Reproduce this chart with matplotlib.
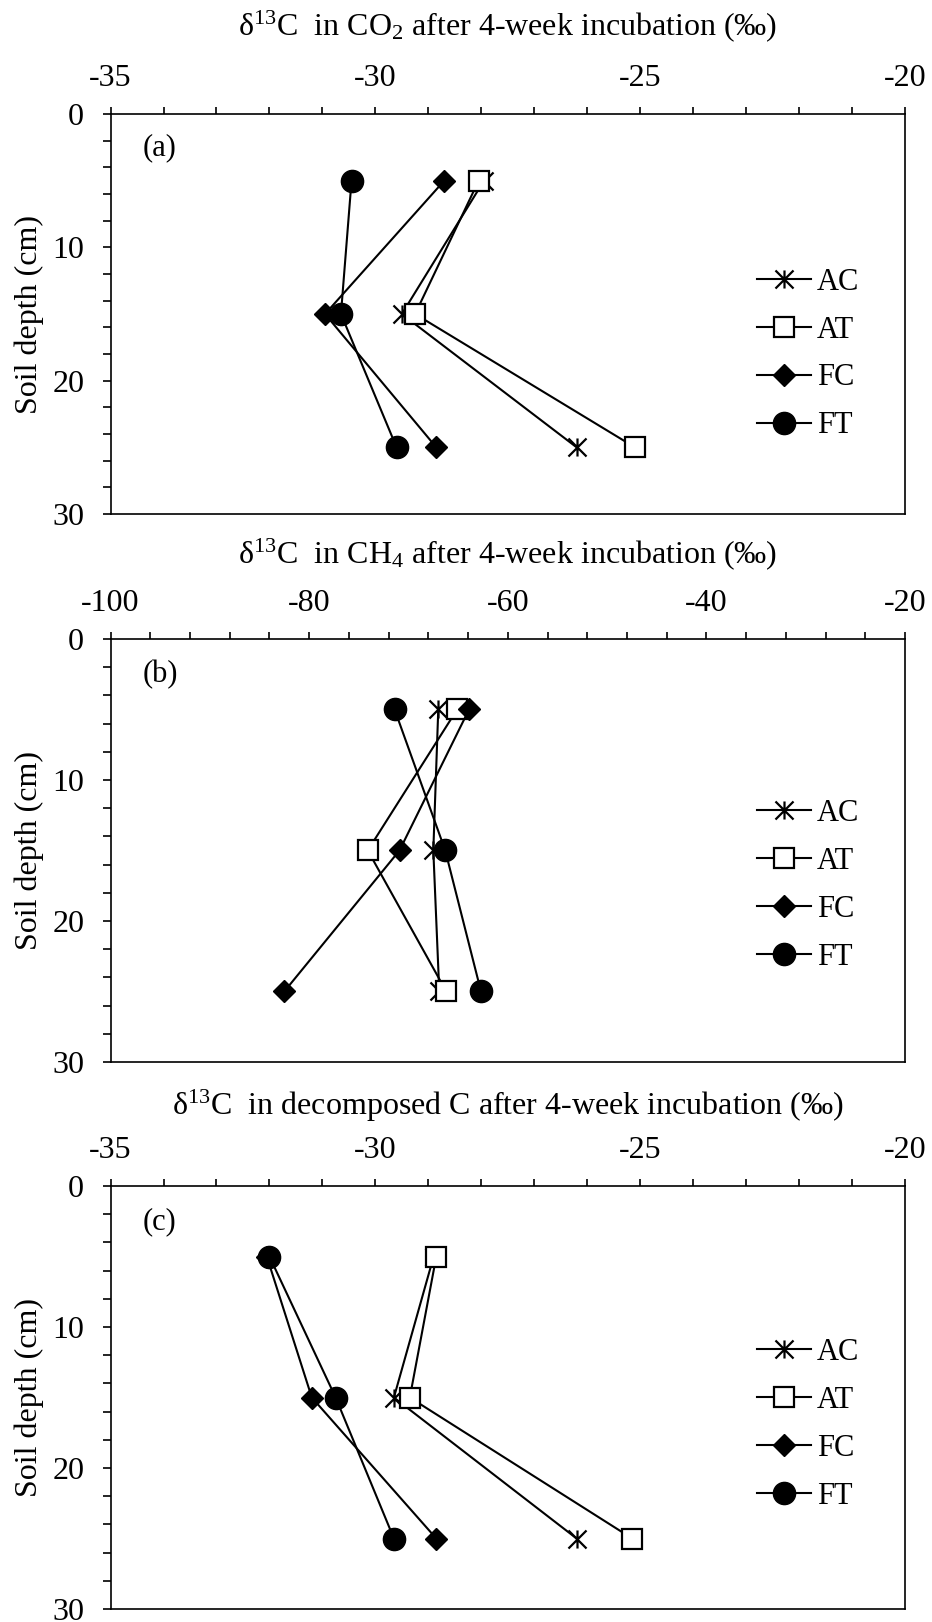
import matplotlib
matplotlib.use("Agg")
import matplotlib.pyplot as plt
from matplotlib.path import Path
from matplotlib.ticker import MultipleLocator

plt.rcParams['font.family'] = ['Liberation Serif', 'DejaVu Serif']
plt.rcParams['mathtext.fontset'] = 'custom'
plt.rcParams['mathtext.rm'] = 'Liberation Serif'
plt.rcParams['mathtext.it'] = 'Liberation Serif:italic'

# profundidad de suelo (cm)
depth = [5, 15, 25]
tratamientos = ["AC", "AT", "FC", "FT"]

# (a) CO2
co2_ac = [-27.95, -29.5, -26.2]
co2_at = [-28.05, -29.25, -25.1]
co2_fc = [-28.7, -30.95, -28.85]
co2_ft = [-30.45, -30.65, -29.6]

# (b) CH4
ch4_ac = [-67.0, -67.5, -66.9]
ch4_at = [-65.1, -74.1, -66.2]
ch4_fc = [-63.9, -70.9, -82.5]
ch4_ft = [-71.4, -66.3, -62.7]

# (c) C descompuesto
dc_ac = [-28.9, -29.65, -26.2]
dc_at = [-28.85, -29.35, -25.15]
dc_fc = [-32.05, -31.2, -28.85]
dc_ft = [-32.0, -30.75, -29.65]

# asterisco tipo Excel: x + linea vertical
star = Path([(0, -1), (0, 1), (-1, -1), (1, 1), (-1, 1), (1, -1)],
            [Path.MOVETO, Path.LINETO, Path.MOVETO, Path.LINETO, Path.MOVETO, Path.LINETO])

estilos = {
    "AC": dict(marker=star, markersize=13, markerfacecolor='black', markeredgewidth=1.6),
    "AT": dict(marker='s', markersize=14, markerfacecolor='white', markeredgewidth=1.6),
    "FC": dict(marker='D', markersize=11, markerfacecolor='black', markeredgewidth=1.0),
    "FT": dict(marker='o', markersize=16, markerfacecolor='black', markeredgewidth=1.0),
}

paneles = [
    dict(series=[co2_ac, co2_at, co2_fc, co2_ft], xlim=(-35, -20), major=5, minor=1,
         titulo=r"δ$^{13}$C  in CO$_2$ after 4-week incubation (‰)", letra="(a)",
         caja=[0.1186, 0.6831, 0.8525, 0.2466], ley_y=0.40, tit_off=63),
    dict(series=[ch4_ac, ch4_at, ch4_fc, ch4_ft], xlim=(-100, -20), major=20, minor=4,
         titulo=r"δ$^{13}$C  in CH$_4$ after 4-week incubation (‰)", letra="(b)",
         caja=[0.1186, 0.3453, 0.8525, 0.2608], ley_y=0.417, tit_off=61),
    dict(series=[dc_ac, dc_at, dc_fc, dc_ft], xlim=(-35, -20), major=5, minor=1,
         titulo=r"δ$^{13}$C  in decomposed C after 4-week incubation (‰)", letra="(c)",
         caja=[0.1186, 0.0080, 0.8525, 0.2608], ley_y=0.437, tit_off=58),
]

fig = plt.figure(figsize=(9.32, 16.22), dpi=100)

for p in paneles:
    ax = fig.add_axes(p["caja"])
    for i, (nombre, vals) in enumerate(zip(tratamientos, p["series"])):
        ax.plot(vals, depth, color='black', linewidth=1.5, markeredgecolor='black',
                label=nombre, zorder=3 + i, clip_on=False, **estilos[nombre])

    ax.set_xlim(*p["xlim"])
    ax.set_ylim(30, 0)
    ax.xaxis.tick_top()
    ax.xaxis.set_major_locator(MultipleLocator(p["major"]))
    ax.xaxis.set_minor_locator(MultipleLocator(p["minor"]))
    ax.yaxis.set_major_locator(MultipleLocator(10))
    ax.yaxis.set_minor_locator(MultipleLocator(2))
    ax.tick_params(axis='x', which='both', direction='out', length=5, width=1.2,
                   labelsize=23, pad=10)
    ax.tick_params(axis='y', which='both', direction='out', length=6, width=1.2,
                   labelsize=23, pad=13)
    ax.xaxis.set_major_formatter(matplotlib.ticker.FuncFormatter(lambda v, _: f"{v:g}"))
    for s in ax.spines.values():
        s.set_linewidth(1.2)

    ax.set_ylabel("Soil depth (cm)", fontsize=23, va='center')
    ax.yaxis.set_label_coords(-0.102, 0.5)

    ax.annotate(p["titulo"], xy=(0.5, 1), xycoords='axes fraction', xytext=(0, p["tit_off"]),
                textcoords='offset points', ha='center', va='center', fontsize=23)
    ax.text(0.04, 0.915, p["letra"], transform=ax.transAxes, fontsize=22,
            ha='left', va='center')

    ax.legend(loc='center left', bbox_to_anchor=(0.814, p["ley_y"]), frameon=False,
              fontsize=22, handlelength=1.75, handletextpad=0.2, labelspacing=0.62,
              borderpad=0, borderaxespad=0)

fig.savefig("out.png", dpi=100)
